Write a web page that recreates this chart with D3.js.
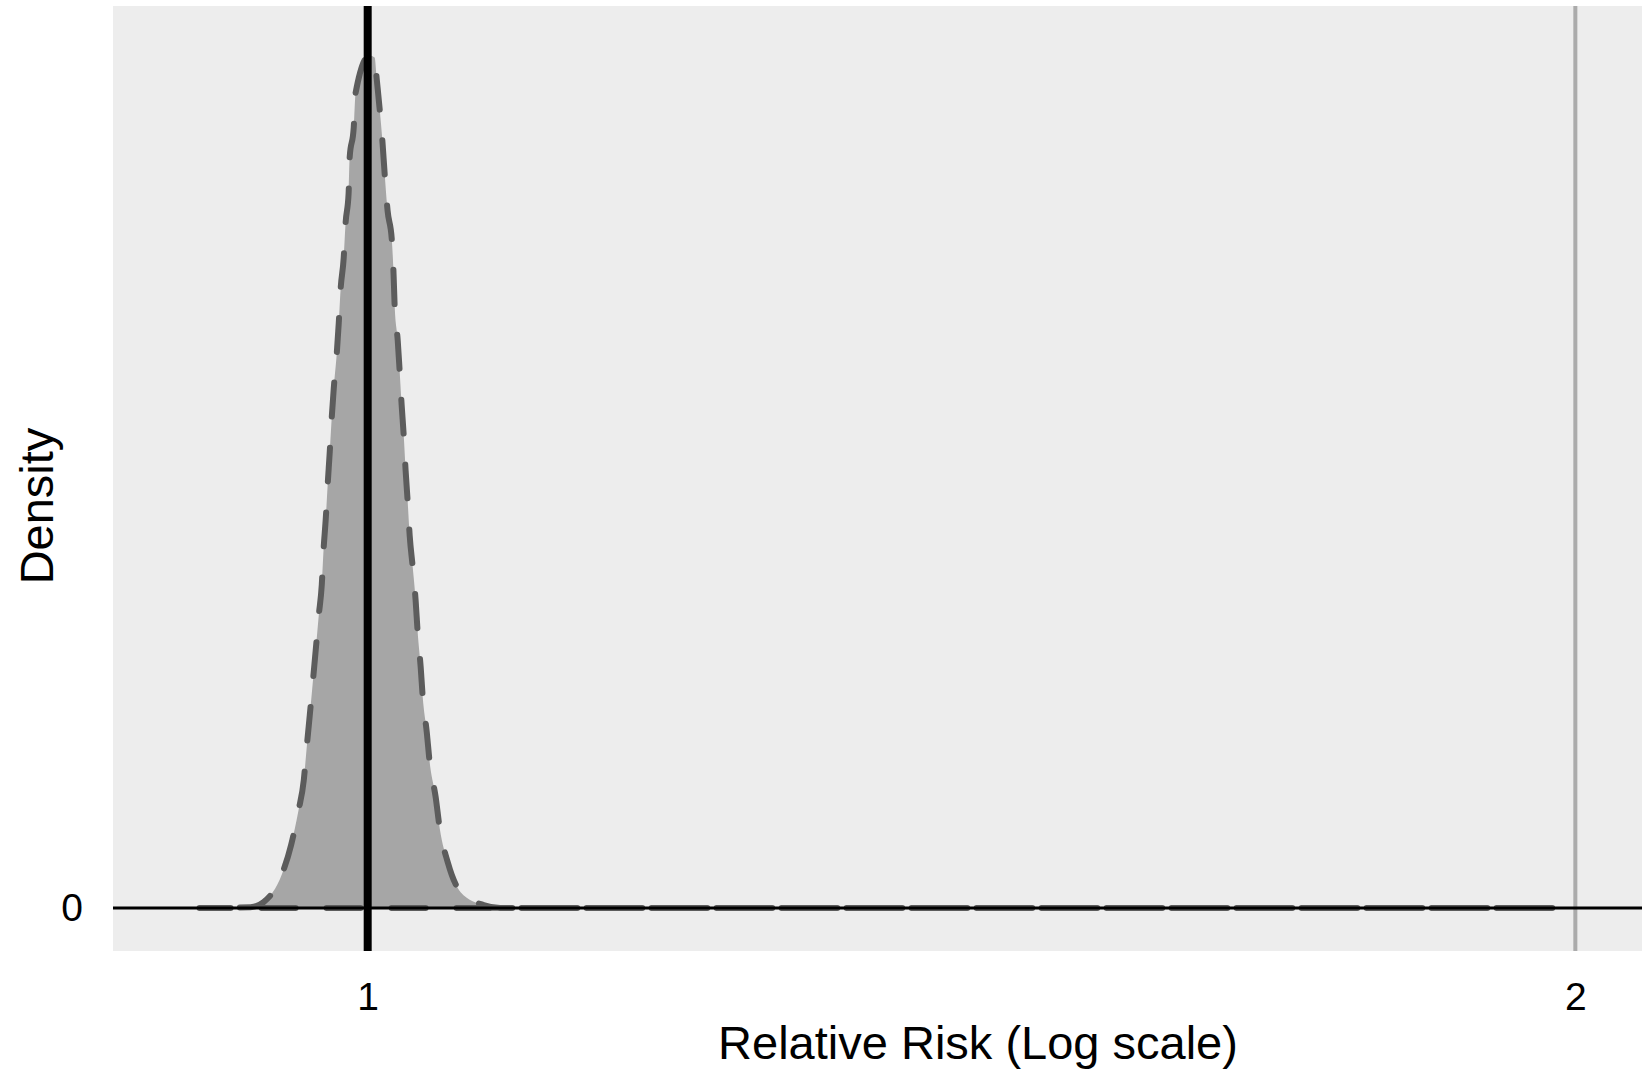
<!DOCTYPE html>
<html lang="en">

<head>
    <meta charset="UTF-8">
    <title>Relative Risk density</title>
    <script src="https://cdn.jsdelivr.net/npm/d3@7/dist/d3.min.js"></script>
    <style>
        body { margin: 0; background: #fff; }
        text { font-family: "Liberation Sans", Arial, sans-serif; }
    </style>
</head>

<body>
    <svg width="1642" height="1072" id="chart"></svg>

    <script>
        // Relative risk values (x) and density
        const rrValues = [0.908, 0.935, 0.942, 0.952, 0.957, 0.961, 0.964, 0.9656, 0.9673, 0.969, 0.9706,
            0.9723, 0.974, 0.975, 0.9762, 0.9773, 0.9784, 0.9795, 0.9807, 0.9824, 0.9835, 0.9846,
            0.9863, 0.9874, 0.9891, 0.9897, 0.992, 0.9931, 1.0011, 1.004, 1.0052, 1.0069, 1.0086,
            1.0098, 1.0115, 1.0139, 1.015, 1.0156, 1.0174, 1.0185, 1.0197, 1.0209, 1.022, 1.0232,
            1.0244, 1.0262, 1.0279, 1.0291, 1.0309, 1.0321, 1.0345, 1.0362, 1.0398, 1.0422, 1.047,
            1.0548, 1.0688, 1.079, 1.979];
        const densityValues = [0, 0.02, 0.14, 0.79, 1.47, 2.26, 2.98, 3.74, 4.49, 5.26, 6.0,
            6.81, 7.53, 8.35, 9.05, 9.86, 10.58, 11.37, 12.09, 12.91, 13.6, 14.42,
            15.12, 15.95, 16.63, 17.47, 18.16, 18.98, 19.85, 19.8, 19.3, 18.6, 17.79,
            17.09, 16.23, 15.58, 14.72, 14.02, 13.21, 12.51, 11.7, 11.0, 10.19, 9.47,
            8.67, 7.93, 7.16, 6.42, 5.6, 4.91, 4.09, 3.4, 2.58, 1.86, 1.07,
            0.37, 0.07, 0, 0];

        const xTicks = [1, 2];
        const yTicks = [0];
        const nullValue = 1;       // thick black reference line
        const xDomain = [0.864, 2.078];
        const yTop = 20;           // upper data limit of the y scale

        const svg = d3.select("#chart");
        const panel = { left: 113, right: 1642, top: 6, bottom: 951 };

        const data = rrValues.map((rr, i) => ({ rr: rr, density: densityValues[i] }));

        const x = d3.scaleLog()
            .domain(xDomain)
            .range([panel.left, panel.right]);

        const y = d3.scaleLinear()
            .domain([-0.05 * yTop, 1.05 * yTop])
            .range([panel.bottom, panel.top]);

        // panel background
        svg.append("rect")
            .attr("x", panel.left)
            .attr("y", panel.top)
            .attr("width", panel.right - panel.left)
            .attr("height", panel.bottom - panel.top)
            .attr("fill", "#EDEDED");

        // major x grid lines (the one at 1 is hidden by the reference line)
        svg.selectAll(".grid")
            .data(xTicks)
            .enter()
            .append("line")
            .attr("class", "grid")
            .attr("x1", d => x(d))
            .attr("x2", d => x(d))
            .attr("y1", panel.top)
            .attr("y2", panel.bottom)
            .attr("stroke", "#ABABAB")
            .attr("stroke-width", 4);

        const area = d3.area()
            .x(d => x(d.rr))
            .y0(y(0))
            .y1(d => y(d.density))
            .curve(d3.curveMonotoneX);

        // filled density
        svg.append("path")
            .datum(data)
            .attr("d", area)
            .attr("fill", "#A6A6A6");

        // dashed outline of the whole polygon (baseline gets stroked twice)
        const outline = svg.append("path")
            .datum(data)
            .attr("d", area)
            .attr("fill", "none")
            .attr("stroke", "#5C5C5C")
            .attr("stroke-width", 6)
            .attr("stroke-dasharray", "34,31")
            .attr("stroke-linecap", "round")
            .attr("stroke-linejoin", "round");

        // shift the dash phase so the two passes on the baseline overlap like the original
        const len = outline.node().getTotalLength();
        const offset = (((56 - len) % 65) + 65) % 65 / 2;
        outline.attr("stroke-dashoffset", offset);

        // zero line
        svg.append("line")
            .attr("x1", panel.left)
            .attr("x2", panel.right)
            .attr("y1", y(0))
            .attr("y2", y(0))
            .attr("stroke", "#000")
            .attr("stroke-width", 3);

        // null effect line
        svg.append("line")
            .attr("x1", x(nullValue))
            .attr("x2", x(nullValue))
            .attr("y1", panel.top)
            .attr("y2", panel.bottom)
            .attr("stroke", "#000")
            .attr("stroke-width", 8);

        // axes
        const xAxis = svg.append("g")
            .attr("transform", `translate(0,${panel.bottom})`)
            .call(d3.axisBottom(x).tickValues(xTicks).tickFormat(d3.format("d")).tickSize(0).tickPadding(31));
        xAxis.select(".domain").remove();
        xAxis.selectAll("text")
            .attr("font-size", "39px")
            .attr("font-family", "Liberation Sans, Arial, sans-serif")
            .attr("fill", "#000");

        const yAxis = svg.append("g")
            .attr("transform", `translate(${panel.left},0)`)
            .call(d3.axisLeft(y).tickValues(yTicks).tickFormat(d3.format("d")).tickSize(0).tickPadding(30));
        yAxis.select(".domain").remove();
        yAxis.selectAll("text")
            .attr("font-size", "39px")
            .attr("font-family", "Liberation Sans, Arial, sans-serif")
            .attr("fill", "#000");

        // axis titles
        svg.append("text")
            .attr("x", 978)
            .attr("y", 1059)
            .attr("text-anchor", "middle")
            .attr("font-size", "47px")
            .attr("fill", "#000")
            .text("Relative Risk (Log scale)");

        svg.append("text")
            .attr("transform", "translate(53,506) rotate(-90)")
            .attr("text-anchor", "middle")
            .attr("font-size", "47px")
            .attr("fill", "#000")
            .text("Density");
    </script>
</body>

</html>
